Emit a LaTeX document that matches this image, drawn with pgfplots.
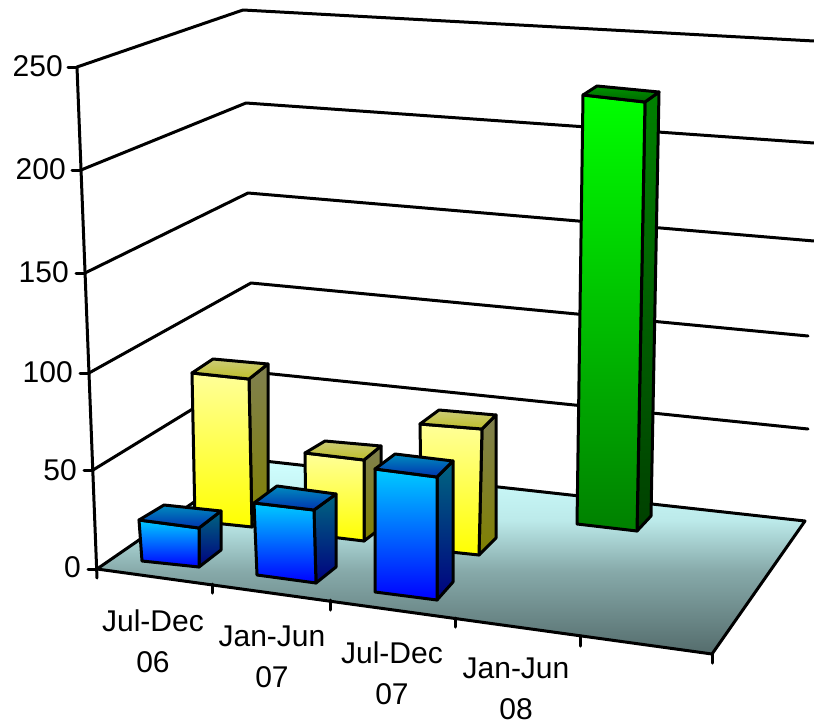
\documentclass[border=0pt]{standalone}
\usepackage{fontspec}
\setmainfont{Liberation Sans}
\usepackage{pgfplots}
\pgfplotsset{compat=1.18}

\definecolor{flTop}{RGB}{208,255,255}
\definecolor{flUp}{RGB}{188,234,234}
\definecolor{flLow}{RGB}{135,170,170}
\definecolor{flBot}{RGB}{84,108,108}
\definecolor{bluF1}{RGB}{0,204,255}
\definecolor{bluF2}{RGB}{0,0,255}
\definecolor{bluS1}{RGB}{0,102,128}
\definecolor{bluS2}{RGB}{0,0,128}
\definecolor{bluT1}{RGB}{0,140,190}
\definecolor{bluT2}{RGB}{0,50,175}
\definecolor{yelF1}{RGB}{255,255,153}
\definecolor{yelF2}{RGB}{255,255,0}
\definecolor{yelS1}{RGB}{128,128,80}
\definecolor{yelS2}{RGB}{128,128,0}
\definecolor{yelT1}{RGB}{204,204,120}
\definecolor{yelT2}{RGB}{190,190,40}
\definecolor{grnF1}{RGB}{0,255,0}
\definecolor{grnF2}{RGB}{0,128,0}
\definecolor{grnS1}{RGB}{0,128,0}
\definecolor{grnS2}{RGB}{0,64,0}
\definecolor{grnT1}{RGB}{0,150,0}
\definecolor{grnT2}{RGB}{0,100,0}

% floor gradient is not linear
\pgfdeclareverticalshading{floorgrad}{100bp}{color(0bp)=(flBot); color(25bp)=(flBot); color(46.5bp)=(flLow); color(59.5bp)=(flUp); color(75bp)=(flTop); color(100bp)=(flTop)}

% one shaded polygon: top colour, bottom colour, corners
\newcommand{\face}[3]{\addplot[draw=black,top color=#1,bottom color=#2] coordinates {#3} -- cycle;}
\newcommand{\bline}[1]{\addplot[black] coordinates {#1};}

\begin{document}
\begin{tikzpicture}
\path[use as bounding box] (0,0) rectangle (814pt,723pt);
\begin{axis}[
  at={(0,0)},
  anchor=south west,
  scale only axis,
  width=814pt,
  height=723pt,
  xmin=0, xmax=814,
  ymin=0, ymax=723,
  y dir=reverse,
  hide axis,
  clip=false,
  every axis plot/.append style={line width=3pt,line join=round,line cap=round},
  nodes={font=\fontsize{30}{41}\selectfont,inner sep=0pt,align=center},
]
% floor
\addplot[draw=black,shade,shading=floorgrad] coordinates {(97,569) (255,460) (805,521) (712,654)} -- cycle;

% walls, value lines 50..250
\bline{(93,470) (253,372) (808,429)}
\bline{(89,373) (251,283) (808,336)}
\bline{(85,273) (248,193) (814,241)}
\bline{(81,170) (246,103) (814,143)}
\bline{(77,67) (243,10) (814,41)}
\bline{(77,67) (97,578)}

% value ticks
\bline{(68,67) (77,67)}
\bline{(72,170) (81,170)}
\bline{(76,273) (85,273)}
\bline{(80,373) (89,373)}
\bline{(84,470) (93,470)}
\bline{(88,569) (97,569)}

% category ticks
\bline{(212,584) (212,593)}
\bline{(330,600) (330,610)}
\bline{(455,618) (455,627)}
\bline{(580,636) (580,646)}
\bline{(712,654) (712,663)}

% yellow series, back row
\face{yelS1}{yelS2}{(249,379) (268,364) (268,512) (252,527)}
\face{yelF1}{yelF2}{(192,373) (249,379) (252,527) (195,521)}
\face{yelT1}{yelT2}{(192,373) (213,359) (268,364) (249,379)}

\face{yelS1}{yelS2}{(364,460) (381,446) (381,528) (364,541)}
\face{yelF1}{yelF2}{(305,453) (364,460) (364,541) (306,534)}
\face{yelT1}{yelT2}{(305,453) (325,441) (381,446) (364,460)}

\face{yelS1}{yelS2}{(482,429) (496,415) (496,538) (479,555)}
\face{yelF1}{yelF2}{(420,424) (482,429) (479,555) (422,549)}
\face{yelT1}{yelT2}{(420,424) (439,410) (496,415) (482,429)}

% green series
\face{grnS1}{grnS2}{(645,102) (659,92) (651,516) (637,531)}
\face{grnF1}{grnF2}{(583,95) (645,102) (637,531) (577,524)}
\face{grnT1}{grnT2}{(583,95) (597,86) (659,92) (645,102)}

% blue series, front row
\face{bluS1}{bluS2}{(199,528) (221,511) (221,550) (199,567)}
\face{bluF1}{bluF2}{(139,520) (199,528) (199,567) (142,561)}
\face{bluT1}{bluT2}{(139,520) (164,505) (221,511) (199,528)}

\face{bluS1}{bluS2}{(314,510) (336,494) (336,567) (316,583)}
\face{bluF1}{bluF2}{(254,503) (314,510) (316,583) (257,575)}
\face{bluT1}{bluT2}{(254,503) (277,486) (336,494) (314,510)}

\face{bluS1}{bluS2}{(437,477) (453,461) (453,582) (437,600)}
\face{bluF1}{bluF2}{(375,469) (437,477) (437,600) (375,592)}
\face{bluT1}{bluT2}{(375,469) (395,454) (453,461) (437,477)}

% tick labels
\node[anchor=east] at (axis cs:63,66) {250};
\node[anchor=east] at (axis cs:66,169) {200};
\node[anchor=east] at (axis cs:69,272) {150};
\node[anchor=east] at (axis cs:73,372) {100};
\node[anchor=east] at (axis cs:77,470) {50};
\node[anchor=east] at (axis cs:81,567) {0};

\node at (axis cs:153,641) {Jul-Dec\\06};
\node at (axis cs:272,657) {Jan-Jun\\07};
\node at (axis cs:392,673) {Jul-Dec\\07};
\node at (axis cs:516,689) {Jan-Jun\\08};
\end{axis}
\end{tikzpicture}
\end{document}
